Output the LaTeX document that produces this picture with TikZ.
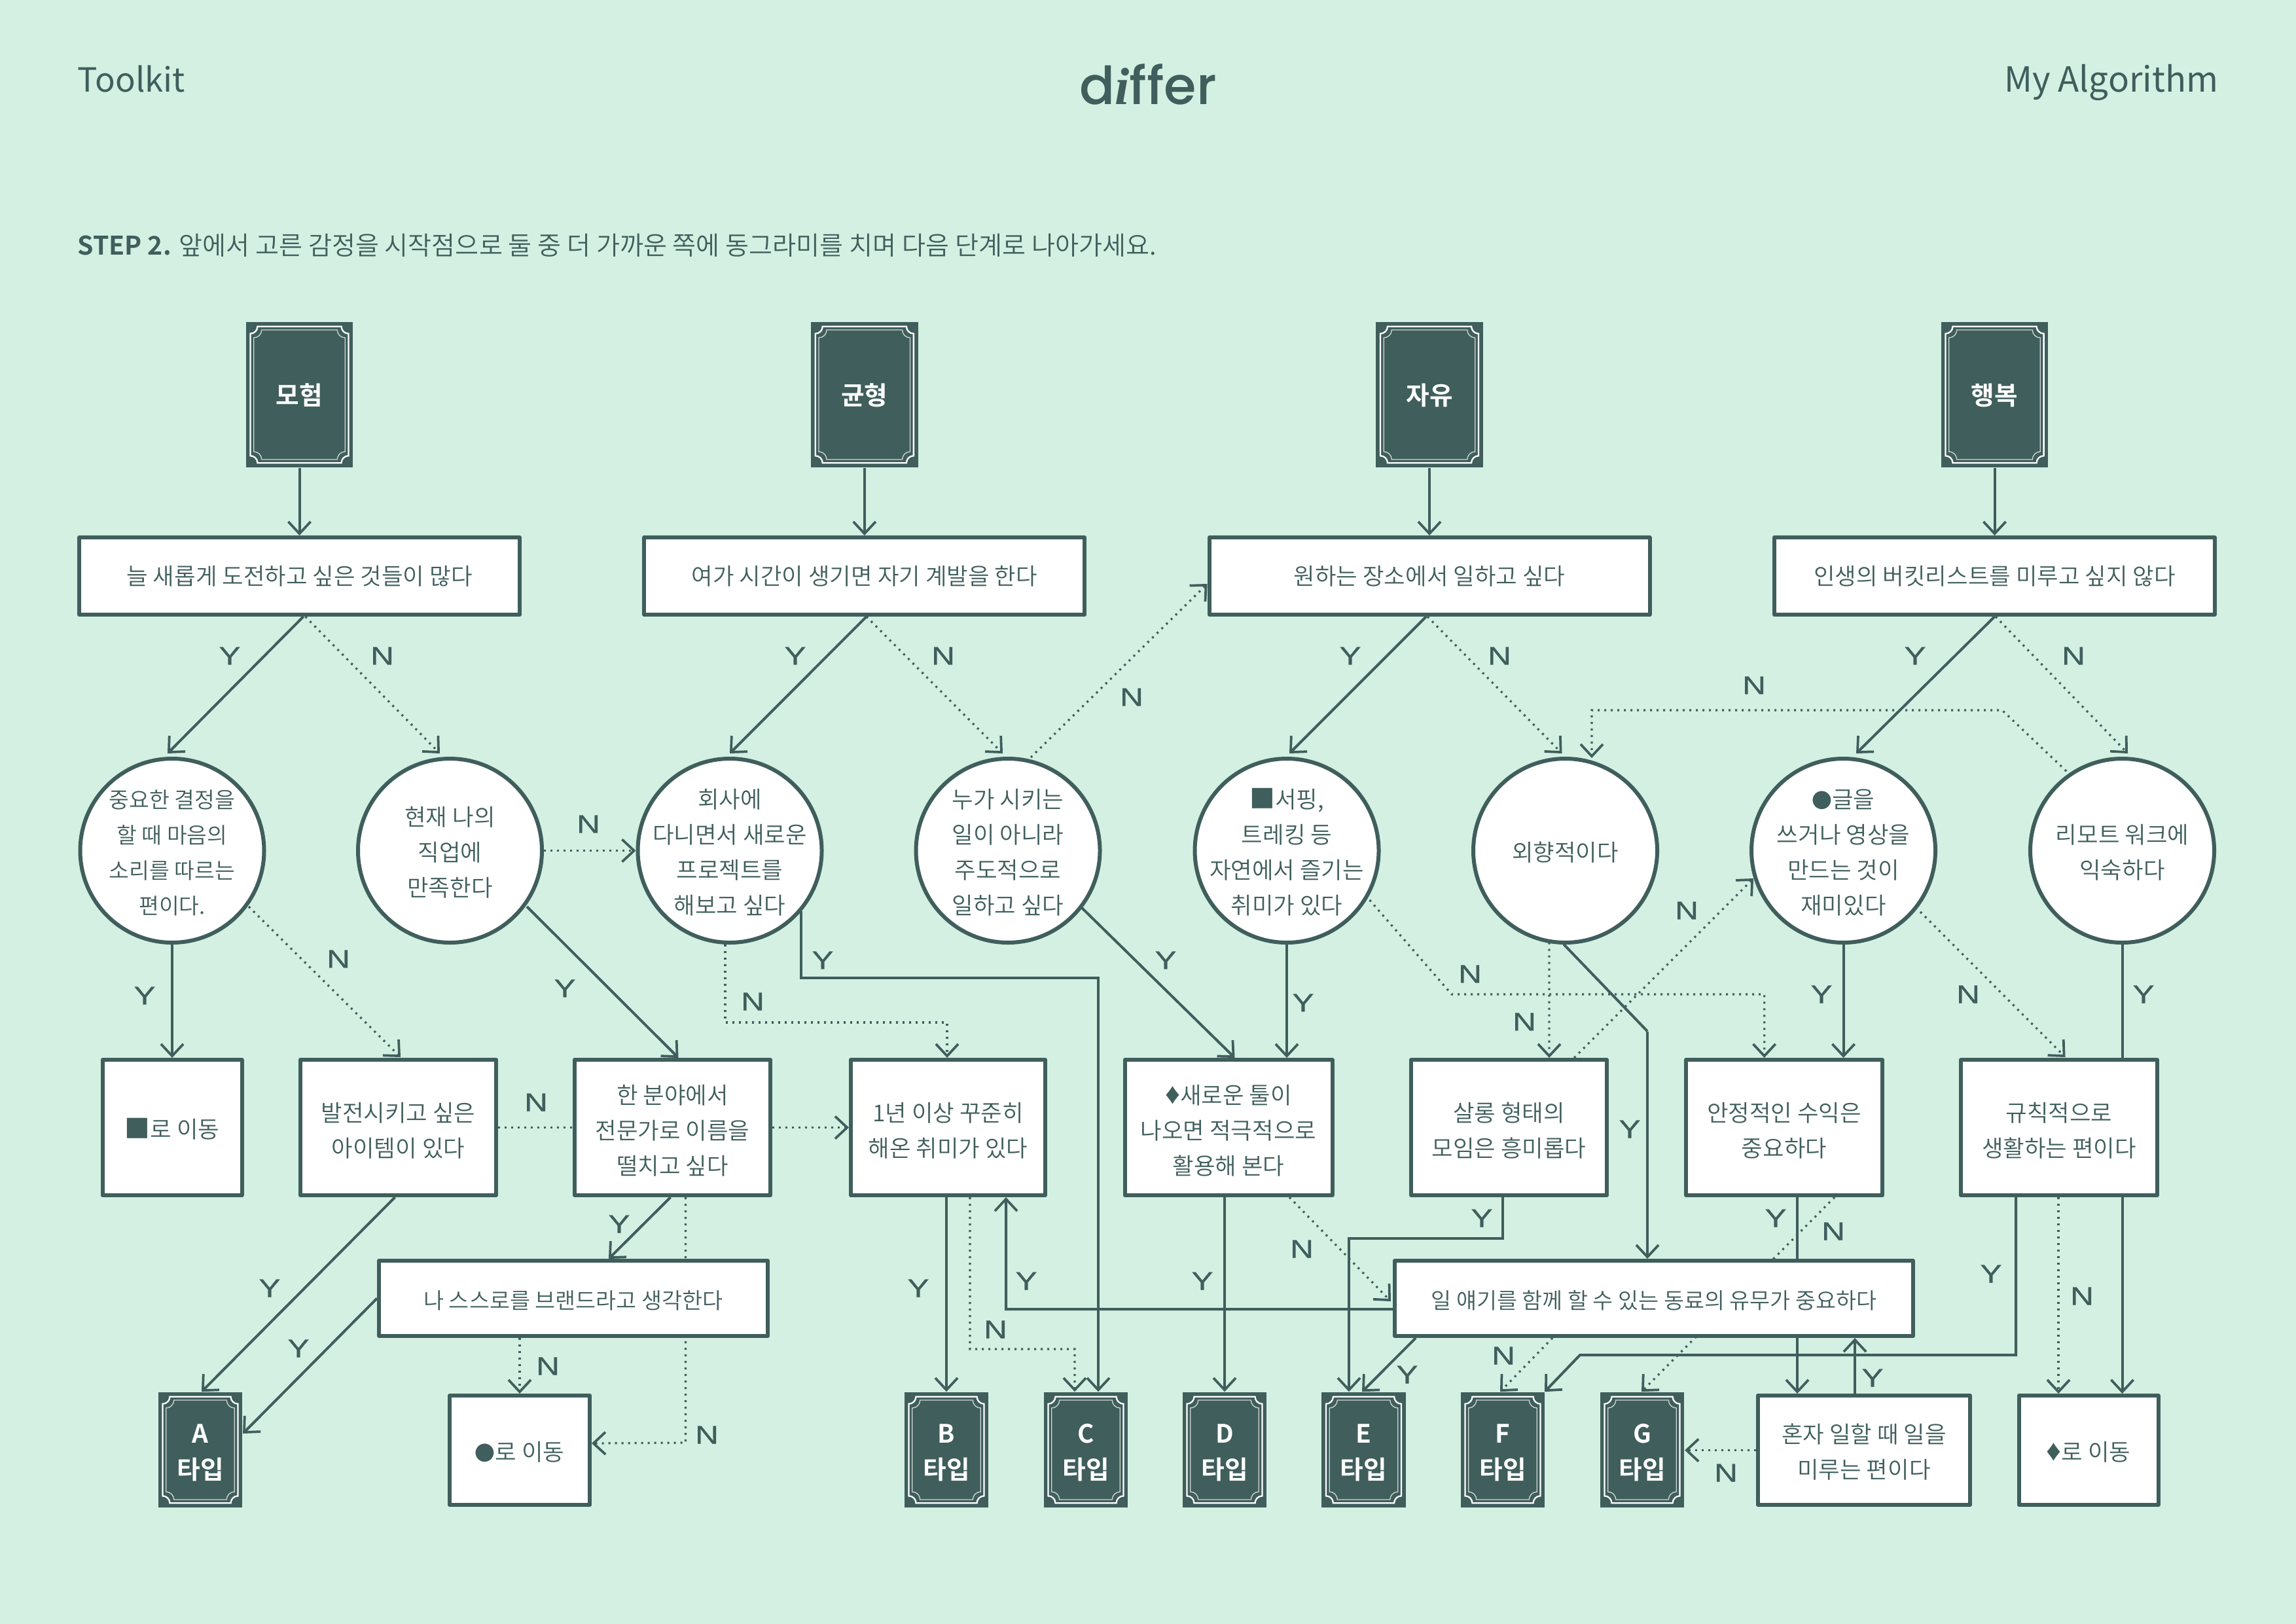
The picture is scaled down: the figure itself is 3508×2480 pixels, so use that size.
\documentclass[tikz,border=0pt]{standalone}
\usepackage{fontspec}
\setmainfont{Noto Sans CJK KR}[UprightFont=* DemiLight,BoldFont=* Bold]
\newfontfamily\hdfont{Noto Sans CJK KR}
\newfontfamily\ynfont{Liberation Sans}[FakeStretch=1.27,FakeBold=.5]
\newfontfamily\logofont{Poppins Medium}
\newfontfamily\logoifont{Liberation Serif}
\newfontfamily\symfont{Liberation Sans}
\usetikzlibrary{arrows.meta,calc,backgrounds}
\definecolor{bgc}{HTML}{D3F0E2}
\definecolor{dk}{HTML}{3F5E5C}
\def\u{0.24pt}
\newcommand\dia{{\symfont\fontsize{10.8}{12.96}\selectfont ♦}}
\newcommand\blob{{\fontsize{7.4}{12.96}\selectfont ●}}
\newcommand\sq{{\fontsize{9.3}{12.96}\selectfont ■}}
\newcommand\tpa{\rule{0pt}{9.5pt}}
\newcommand\tpc{\rule{0pt}{8.5pt}}
\newcommand\tpb{\rule{0pt}{8.8pt}}
\tikzset{
  qbox/.style={draw=dk,fill=white,line width=1.44pt,line join=round,text=dk,align=center,inner sep=0pt,font=\fontsize{8.5}{12.96}\selectfont},
  onel/.style={execute at begin node={\rule{0pt}{8.5pt}}},
  qcirc/.style={qbox,circle,inner sep=-15pt,minimum size=281*\u},
  bann/.style={fill=dk,text=white,align=center,inner sep=0pt,font=\fontsize{9.3}{13.2}\selectfont\bfseries},
  yn/.style={text=dk,inner sep=0pt,font=\ynfont\fontsize{9.4}{10}\selectfont},
  hd/.style={text=dk,inner sep=0pt,font=\hdfont\fontsize{12.7}{15}\selectfont},
  ln/.style={draw=dk,line width=.96pt},
  dt/.style={draw=dk,line width=.78pt,dash pattern=on .72pt off 1.68pt},
  arr/.style={-{Straight Barb[length=4.4pt,width=8.2pt,line width=.9pt]}}
}
\newcommand\bframe[3]{%
  \begin{scope}[shift={(#1.center)}]
    \foreach \off/\rr/\lw/\cc in {6.7/11/.55pt/white,12/12/.32pt/white!75!dk}{
      \pgfmathsetmacro\fW{#2/2-\off}
      \pgfmathsetmacro\fH{#3/2-\off}
      \pgfmathsetmacro\fK{.5523*\rr}
      \draw[draw=\cc,line width=\lw]
        ({-\fW+\rr},{-\fH}) -- ({\fW-\rr},{-\fH})
        .. controls ({\fW-\rr},{-\fH+\fK}) and ({\fW-\fK},{-\fH+\rr}) .. ({\fW},{-\fH+\rr})
        -- ({\fW},{\fH-\rr})
        .. controls ({\fW-\fK},{\fH-\rr}) and ({\fW-\rr},{\fH-\fK}) .. ({\fW-\rr},{\fH})
        -- ({-\fW+\rr},{\fH})
        .. controls ({-\fW+\rr},{\fH-\fK}) and ({-\fW+\fK},{\fH-\rr}) .. ({-\fW},{\fH-\rr})
        -- ({-\fW},{-\fH+\rr})
        .. controls ({-\fW+\fK},{-\fH+\rr}) and ({-\fW+\rr},{-\fH+\fK}) .. cycle;
    }
  \end{scope}}
\newcommand\banner[6]{%
  \node[bann,minimum width=#4*\u,minimum height=#5*\u] (#1) at (#2,#3) {#6};
  \bframe{#1}{#4}{#5}}
\begin{document}
\begin{tikzpicture}[x=0.24pt,y=-0.24pt]
\useasboundingbox (0,0) rectangle (3508,2480);
\begin{scope}[on background layer]
  \fill[bgc] (-10,-10) rectangle (3518,2490);
\end{scope}

% header
\node[hd,anchor=base west,font=\hdfont\fontsize{12.2}{15}\selectfont] (toolkit) at (118,140) {Toolkit};
\node[hd,anchor=base east] (algo) at (3390,140) {My Algorithm};
\node[text=dk,anchor=base,inner sep=0pt,font=\logofont\fontsize{19.2}{20}\selectfont] (logo) at (1754,159) {d{\logoifont\bfseries\itshape i}f{}fer};
\node[text=dk,anchor=west,inner sep=0pt,font=\fontsize{9.4}{12}\selectfont] (step) at (118,375) {{\bfseries STEP 2.} 앞에서 고른 감정을 시작점으로 둘 중 더 가까운 쪽에 동그라미를 치며 다음 단계로 나아가세요.};

% top banners
\banner{ba}{457.5}{603}{163.5}{222}{\rule{0pt}{8.4pt}모험}
\banner{bb}{1320.8}{603}{163.5}{222}{\rule{0pt}{8.4pt}균형}
\banner{bc}{2184}{603}{163.5}{222}{\rule{0pt}{8.4pt}자유}
\banner{bd}{3047.5}{603}{163.5}{222}{\rule{0pt}{8.4pt}행복}

% first questions
\tikzset{rw/.style={qbox,minimum width=673*\u,minimum height=118*\u}}
\node[rw] (r1) at (457.5,880) {늘 새롭게 도전하고 싶은 것들이 많다};
\node[rw] (r2) at (1320.8,880) {여가 시간이 생기면 자기 계발을 한다};
\node[rw] (r3) at (2184,880) {원하는 장소에서 일하고 싶다};
\node[rw] (r4) at (3047.5,880) {인생의 버킷리스트를 미루고 싶지 않다};

% circles
\node[qcirc,font=\fontsize{8.05}{12.96}\selectfont] (c1) at (263,1299.5) {\tpc 중요한 결정을\\할 때 마음의\\소리를 따르는\\편이다.};
\node[qcirc] (c2) at (687.5,1299.5) {\tpc 현재 나의\\직업에\\만족한다};
\node[qcirc] (c3) at (1115,1299.5) {\tpc 회사에\\다니면서 새로운\\프로젝트를\\해보고 싶다};
\node[qcirc] (c4) at (1540,1299.5) {\tpc 누가 시키는\\일이 아니라\\주도적으로\\일하고 싶다};
\node[qcirc] (c5) at (1966,1299.5) {\tpc\sq 서핑,\\트레킹 등\\자연에서 즐기는\\취미가 있다};
\node[qcirc,onel] (c6) at (2391.5,1299.5) {외향적이다};
\node[qcirc] (c7) at (2816.5,1299.5) {\tpc\blob 글을\\쓰거나 영상을\\만드는 것이\\재미있다};
\node[qcirc] (c8) at (3242.5,1299.5) {\tpc 리모트 워크에\\익숙하다};

% third row
\tikzset{rs/.style={qbox,minimum height=207*\u}}
\node[rs,onel,minimum width=213*\u] (s1) at (263,1722.5) {\sq 로 이동};
\node[rs,minimum width=299*\u] (s2) at (608.5,1722.5) {\tpa 발전시키고 싶은\\아이템이 있다};
\node[rs,minimum width=299*\u] (s3) at (1027.5,1722.5) {\tpa 한 분야에서\\전문가로 이름을\\떨치고 싶다};
\node[rs,minimum width=297*\u] (s4) at (1448.5,1722.5) {\tpa 1년 이상 꾸준히\\해온 취미가 있다};
\node[rs,minimum width=317*\u] (s5) at (1877,1722.5) {\tpa\dia 새로운 툴이\\나오면 적극적으로\\활용해 본다};
\node[rs,minimum width=299*\u] (s6) at (2305.5,1722.5) {\tpa 살롱 형태의\\모임은 흥미롭다};
\node[rs,minimum width=300*\u] (s7) at (2726,1722.5) {\tpa 안정적인 수익은\\중요하다};
\node[rs,minimum width=300*\u] (s8) at (3146,1722.5) {\tpa 규칙적으로\\생활하는 편이다};

% mid bars
\node[qbox,onel,font=\fontsize{8.1}{12.96}\selectfont,minimum width=594*\u,minimum height=115*\u] (m1) at (876,1983.5) {나 스스로를 브랜드라고 생각한다};
\node[qbox,onel,font=\fontsize{8.1}{12.96}\selectfont,minimum width=792*\u,minimum height=115*\u] (m2) at (2527,1983.5) {일 얘기를 함께 할 수 있는 동료의 유무가 중요하다};

% type banners
\banner{ta}{306}{2215}{128.5}{176}{\tpb A\\타입}
\banner{tb}{1446}{2215}{128.5}{176}{\tpb B\\타입}
\banner{tc}{1659}{2215}{128.5}{176}{\tpb C\\타입}
\banner{td}{1871}{2215}{128.5}{176}{\tpb D\\타입}
\banner{te}{2083.5}{2215}{128.5}{176}{\tpb E\\타입}
\banner{tf}{2296}{2215}{128.5}{176}{\tpb F\\타입}
\banner{tg}{2509}{2215}{128.5}{176}{\tpb G\\타입}

% end boxes
\tikzset{re/.style={qbox,minimum height=167*\u}}
\node[re,onel,minimum width=214*\u] (e1) at (794,2215.5) {\blob 로 이동};
\node[re,minimum width=324*\u] (e2) at (2848,2215.5) {\tpc 혼자 일할 때 일을\\미루는 편이다};
\node[re,onel,minimum width=213*\u] (e3) at (3191,2215.5) {\dia 로 이동};

% connectors
\begin{scope}[on background layer]
  \draw[ln,arr] (ba.south) -- (r1.north);
  \draw[ln,arr] (bb.south) -- (r2.north);
  \draw[ln,arr] (bc.south) -- (r3.north);
  \draw[ln,arr] (bd.south) -- (r4.north);

  \draw[ln,arr] ($(r1.south)+(6,0)$) -- ($(c1.north)+(-7,-5)$);
  \draw[dt,arr] ($(r1.south)+(9,0)$) -- ($(c2.north)+(-15.5,-5)$);
  \draw[ln,arr] ($(r2.south)+(3,0)$) -- ($(c3.north)+(0,-5)$);
  \draw[dt,arr] ($(r2.south)+(3,0)$) -- ($(c4.north)+(-8,-5)$);
  \draw[dt,arr] ($(c4)+(35,-142.5)$) -- ($(r3.west)+(0,12)$);
  \draw[ln,arr] ($(r3.south)+(-5,0)$) -- ($(c5.north)+(4,-5)$);
  \draw[dt,arr] ($(r3.south)+(-3,0)$) -- ($(c6.north)+(-5,-5)$);
  \draw[ln,arr] (r4.south) -- ($(c7.north)+(19.5,-5)$);
  \draw[dt,arr] ($(r4.south)+(1.5,0)$) -- ($(c8.north)+(8.5,-5)$);
  \draw[dt,arr] ($(c8)+(-85.5,-121.5)$) -- ++(-98,-93) -- ++(-627,0) -- ($(c6)+(40.5,-141.5)$);

  \draw[ln,arr] (c1.south) -- (s1.north);
  \draw[dt,arr] ($(c1)+(117,85.5)$) -- ($(s2.north)+(3.5,-1)$);
  \draw[dt,arr] (c2.east) -- (c3.west);
  \draw[ln,arr] ($(c2)+(117.5,85.5)$) -- ($(s3.north)+(9,0)$);
  \draw[dt,arr] ($(c3.south)+(-7,0)$) -- ++(0,119) -- ++(339,0) -- ($(s4.north)+(-1.5,0)$);
  \draw[ln,arr] ($(c3)+(109,92.5)$) -- ++(0,102) -- ++(454,0) -- ($(tc.north)+(19,0)$);
  \draw[ln,arr] ($(c4)+(113,87.5)$) -- ($(s5.north)+(9.5,0)$);
  \draw[ln,arr] (c5.south) -- (c5.south |- s5.north);
  \draw[dt,arr] ($(c5)+(126.6,75.5)$) -- ++(125.4,144) -- ++(477.6,0) -- ($(s7.north)+(-30.4,0)$);
  \draw[dt,arr] ($(c6)+(-24.5,140)$) -- ($(s6.north)+(61.5,0)$);
  \draw[ln] ($(c6)+(-2.5,143)$) -- ++(128,133) coordinate (kink) ;
  \draw[ln,arr] (kink) -- (kink |- m2.north);
  \draw[dt,arr] ($(s6.north)+(99.5,0)$) -- ($(c7)+(-137.5,42.5)$);
  \draw[ln,arr] (c7.south) -- (c7.south |- s7.north);
  \draw[dt,arr] ($(c7)+(117.5,93.5)$) -- ($(s8.north)+(9.5,-1)$);
  \draw[ln,arr] (c8.south) -- (c8.south |- e3.north);

  \draw[ln,arr] ($(s2.south)+(-5,0)$) -- ($(ta.north)+(2,0)$);
  \draw[ln,arr] (m1.west) -- ($(ta.east)+(0,-25)$);
  \draw[ln,arr] ($(s3.south)+(-3,0)$) -- ($(m1.north)+(54,0)$);
  \draw[dt,arr] ($(s3.south)+(20,0)$) -- ++(0,375) -- ($(e1.east)+(0,-10.5)$);
  \draw[dt,arr] (e1.north |- m1.south) -- (e1.north);
  \draw[dt] (s2.east) -- (s3.west);
  \draw[dt,arr] (s3.east) -- (s4.west);
  \draw[ln,arr] (tb.north |- s4.south) -- (tb.north);
  \draw[dt,arr] ($(s4.south)+(33.5,0)$) -- ++(0,232) -- ++(160,0) -- ($(tc.north)+(-17,0)$);
  \draw[ln,arr] (td.north |- s5.south) -- (td.north);
  \draw[dt,arr] ($(s5.south)+(93,0)$) -- ($(m2.west)+(-3,4.5)$);
  \draw[ln,arr] ($(s6.south)+(-9.5,0)$) -- ++(0,63) -- ++(-235,0) -- ($(te.north)+(-22.5,0)$);
  \draw[ln,arr] ($(m2.west)+(0,16.5)$) -- ++(-591,0) -- ($(s4.south)+(88.5,0)$);
  \draw[ln,arr] ($(m2.south)+(-364,0)$) -- ($(te.north)+(-2.5,0)$);
  \draw[dt,arr] ($(m2.south)+(-155,0)$) -- ($(tf.north)+(-4,0)$);
  \draw[dt,arr] ($(s7.south)+(77,0)$) -- ($(tg.north)+(-1,0)$);
  \draw[ln,arr] ($(s7.south)+(20,0)$) -- ($(e2.north)+(-102,0)$);
  \draw[ln,arr] ($(e2.north)+(-14,0)$) -- ($(m2.south)+(307,0)$);
  \draw[dt,arr] (e2.west) -- (e2.west -| tg.east);
  \draw[ln,arr] ($(s8.south)+(-66,0)$) -- ++(0,241) -- ++(-666,0) -- ($(tf.north)+(64,0)$);
  \draw[dt,arr] ($(s8.south)+(-1,0)$) -- ($(e3.north)+(-46,0)$);
\end{scope}

% labels
\foreach \n/\x/\y/\t in {
1/351/1002/Y,2/584/1002/N,3/1215/1002/Y,4/1441/1002/N,5/1729/1065/N,6/2063/1002/Y,7/2291/1002/N,
8/2680/1047/N,9/2926/1002/Y,10/3168/1002/N,11/899/1259/N,12/517/1465/N,13/221/1521/Y,14/863/1510/Y,
15/1150/1530/N,16/1257/1467/Y,17/1781/1467/Y,18/1991/1532/Y,19/2246/1488/N,20/2329/1561/N,21/2577/1391/N,
22/2783/1519/Y,23/3007/1519/N,24/3275/1519/Y,25/819/1684/N,26/2490/1725/Y,27/946/1870/Y,28/412/1968/Y,
29/456/2060/Y,30/837/2087/N,31/1080/2192/N,32/1403/1968/Y,33/1568/1957/Y,34/1521/2031/N,35/1837/1957/Y,
36/1989/1908/N,37/2264/1861/Y,38/2713/1861/Y,39/2801/1881/N,40/3042/1946/Y,41/3181/1980/N,42/2297/2071/N,
43/2150/2100/Y,44/2861/2105/Y,45/2637/2250/N}
  {\node[yn] (lab\n) at (\x,\y) {\t};}
\end{tikzpicture}
\end{document}
